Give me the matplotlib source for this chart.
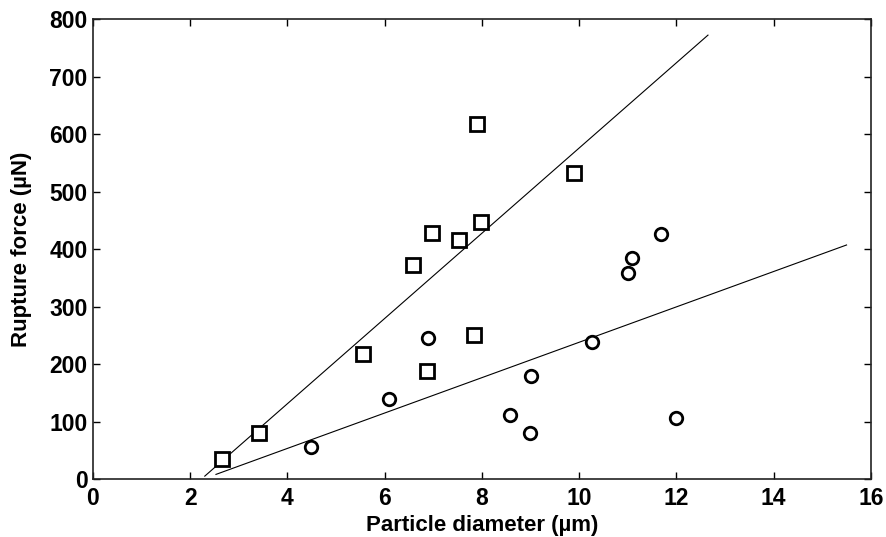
import matplotlib; matplotlib.use("Agg")
import matplotlib.pyplot as plt
import numpy as np

# squares (upper group)
sq_x = [2.65, 3.41, 5.55, 6.87, 6.58, 6.97, 7.53, 7.84, 7.98, 7.90, 9.89]
sq_y = [35, 80, 217, 188, 372, 428, 416, 250, 447, 617, 532]
# circles (lower group)
ci_x = [4.48, 6.09, 6.89, 8.58, 8.98, 9.00, 10.26, 11.01, 11.09, 11.68, 11.99]
ci_y = [56, 139, 245, 111, 80, 180, 238, 359, 385, 426, 106]
# fit lines (endpoints)
fit1_x = [2.30, 12.65]
fit1_y = [5, 772]
fit2_x = [2.53, 15.50]
fit2_y = [8, 407]

plt.rcParams["font.family"] = ["Liberation Sans", "DejaVu Sans"]
plt.rcParams["font.weight"] = "bold"

fig = plt.figure(figsize=(8.87, 5.37), dpi=100)
ax = fig.add_axes([0.1048, 0.108, 0.877, 0.8566])

ax.plot(fit1_x, fit1_y, color="black", lw=0.8)
ax.plot(fit2_x, fit2_y, color="black", lw=0.8)
ax.plot(sq_x, sq_y, ls="none", marker="s", ms=9.5, mfc="white", mec="black", mew=2)
ax.plot(ci_x, ci_y, ls="none", marker="o", ms=9, mfc="white", mec="black", mew=2)

ax.set_xlim(0, 16); ax.set_ylim(0, 800)
ax.set_xticks(np.arange(0, 17, 2)); ax.set_yticks(np.arange(0, 801, 100))
ax.tick_params(direction="in", length=5, width=1, top=True, right=True, labelsize=16.5)
ax.tick_params(axis="x", pad=6)
ax.tick_params(axis="y", pad=4)
for lab in ax.get_xticklabels() + ax.get_yticklabels():
    lab.set_fontweight("bold")
for s in ax.spines.values():
    s.set_linewidth(1.2); s.set_color("#222222")

ax.set_xlabel("Particle diameter (µm)", fontsize=16, fontweight="bold", labelpad=3)
ax.set_ylabel("Rupture force (µN)", fontsize=16, fontweight="bold", labelpad=12)

plt.savefig("out.png", dpi=100)
plt.close()
